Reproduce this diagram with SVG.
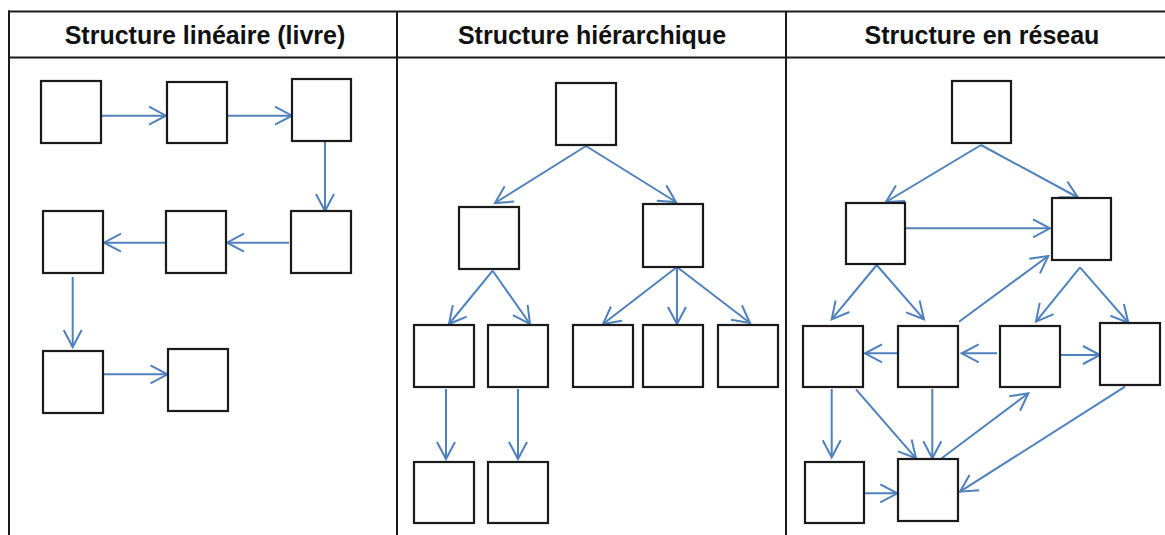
<svg xmlns="http://www.w3.org/2000/svg" width="1165" height="535" viewBox="0 0 1165 535">
<defs>
<style>
.grid{stroke:#1a1a1a;stroke-width:2;fill:none}
.box{fill:#fff;stroke:#1a1a1a;stroke-width:2.2}
.hdr{font-family:"Liberation Sans",Arial,sans-serif;font-weight:bold;font-size:25px;fill:#111;text-anchor:middle}
.c line{stroke:#4F81BD;stroke-width:2;marker-end:url(#ah)}
</style>
<marker id="ah" markerUnits="userSpaceOnUse" markerWidth="22" markerHeight="22" viewBox="0 0 22 22" refX="19" refY="11" orient="auto">
<path d="M2,2 L19,11 L2,20" fill="none" stroke="#4F81BD" stroke-width="2"/>
</marker>
</defs>
<rect width="1165" height="535" fill="#fff"/>
<g id="table" class="grid">
<line x1="8" y1="11.5" x2="1165" y2="11.5"/>
<line x1="9" y1="57.5" x2="1165" y2="57.5"/>
<line x1="9" y1="10.5" x2="9" y2="535"/>
<line x1="397" y1="11.5" x2="397" y2="535"/>
<line x1="786" y1="11.5" x2="786" y2="535"/>
</g>
<g id="headers">
<text class="hdr" x="205" y="44">Structure linéaire (livre)</text>
<text class="hdr" x="592" y="44">Structure hiérarchique</text>
<text class="hdr" x="982" y="44">Structure en réseau</text>
</g>
<g id="connectors" class="c">
<line x1="101" y1="115.7" x2="166" y2="115.7"/>
<line x1="227" y1="115.7" x2="292" y2="115.7"/>
<line x1="325" y1="141" x2="325" y2="211"/>
<line x1="289" y1="242.7" x2="227" y2="242.7"/>
<line x1="166" y1="242.7" x2="104" y2="242.7"/>
<line x1="72.7" y1="277" x2="72.7" y2="347"/>
<line x1="103" y1="374.3" x2="167.5" y2="374.3"/>
<line x1="586" y1="146" x2="495" y2="203"/>
<line x1="586" y1="146" x2="676" y2="202"/>
<line x1="492.7" y1="270.7" x2="449" y2="324"/>
<line x1="492.7" y1="270.7" x2="530" y2="324"/>
<line x1="677" y1="267" x2="603" y2="324"/>
<line x1="677" y1="267" x2="677" y2="324"/>
<line x1="677" y1="267" x2="750" y2="323"/>
<line x1="446" y1="389" x2="446" y2="459"/>
<line x1="518" y1="389" x2="518" y2="459"/>
<line x1="981" y1="145" x2="886" y2="202"/>
<line x1="981" y1="145" x2="1078" y2="197.5"/>
<line x1="905" y1="228.3" x2="1050" y2="228.3"/>
<line x1="876.7" y1="265" x2="831.7" y2="319.3"/>
<line x1="876.7" y1="265" x2="924" y2="319.3"/>
<line x1="1080" y1="267.3" x2="1036" y2="321.7"/>
<line x1="1080" y1="267.3" x2="1128.3" y2="322.7"/>
<line x1="898" y1="353.3" x2="865" y2="353.3"/>
<line x1="997" y1="353.3" x2="961.7" y2="353.3"/>
<line x1="1060" y1="355" x2="1100" y2="355"/>
<line x1="959" y1="321.7" x2="1048.3" y2="256"/>
<line x1="831.7" y1="389" x2="831.7" y2="457.3"/>
<line x1="856" y1="389.3" x2="916" y2="458.3"/>
<line x1="932.3" y1="389" x2="932.3" y2="458.3"/>
<line x1="941.7" y1="458.3" x2="1028.3" y2="393.3"/>
<line x1="1125" y1="386.7" x2="960" y2="491.7"/>
<line x1="864" y1="493.3" x2="897.3" y2="493.3"/>
</g>
<g id="lin1"><rect class="box" x="41" y="81" width="60" height="62"/></g>
<g id="lin2"><rect class="box" x="167" y="82" width="60" height="61"/></g>
<g id="lin3"><rect class="box" x="292" y="79" width="59" height="62"/></g>
<g id="lin4"><rect class="box" x="43" y="211" width="60" height="62"/></g>
<g id="lin5"><rect class="box" x="166" y="211" width="60" height="62"/></g>
<g id="lin6"><rect class="box" x="291" y="211" width="60" height="62"/></g>
<g id="lin7"><rect class="box" x="43" y="351" width="60" height="62"/></g>
<g id="lin8"><rect class="box" x="168" y="349" width="60" height="62"/></g>
<g id="hier0"><rect class="box" x="556" y="83" width="60" height="62"/></g>
<g id="hier1"><rect class="box" x="459" y="207" width="60" height="62"/></g>
<g id="hier2"><rect class="box" x="643" y="204" width="60" height="63"/></g>
<g id="hier3"><rect class="box" x="414" y="325" width="60" height="62"/></g>
<g id="hier4"><rect class="box" x="488" y="325" width="60" height="62"/></g>
<g id="hier5"><rect class="box" x="573" y="325" width="60" height="62"/></g>
<g id="hier6"><rect class="box" x="643" y="325" width="60" height="62"/></g>
<g id="hier7"><rect class="box" x="718" y="325" width="60" height="62"/></g>
<g id="hier8"><rect class="box" x="414" y="462" width="60" height="61"/></g>
<g id="hier9"><rect class="box" x="488" y="462" width="60" height="61"/></g>
<g id="net0"><rect class="box" x="952" y="81" width="59" height="62"/></g>
<g id="net1"><rect class="box" x="846" y="203" width="59" height="61"/></g>
<g id="net2"><rect class="box" x="1052" y="198" width="59" height="62"/></g>
<g id="net3"><rect class="box" x="803" y="326" width="60" height="61"/></g>
<g id="net4"><rect class="box" x="898" y="326" width="60" height="61"/></g>
<g id="net5"><rect class="box" x="1000" y="326" width="60" height="61"/></g>
<g id="net6"><rect class="box" x="1100" y="323" width="60" height="62"/></g>
<g id="net7"><rect class="box" x="805" y="462" width="59" height="61"/></g>
<g id="net8"><rect class="box" x="898" y="459" width="60" height="62"/></g>
</svg>
